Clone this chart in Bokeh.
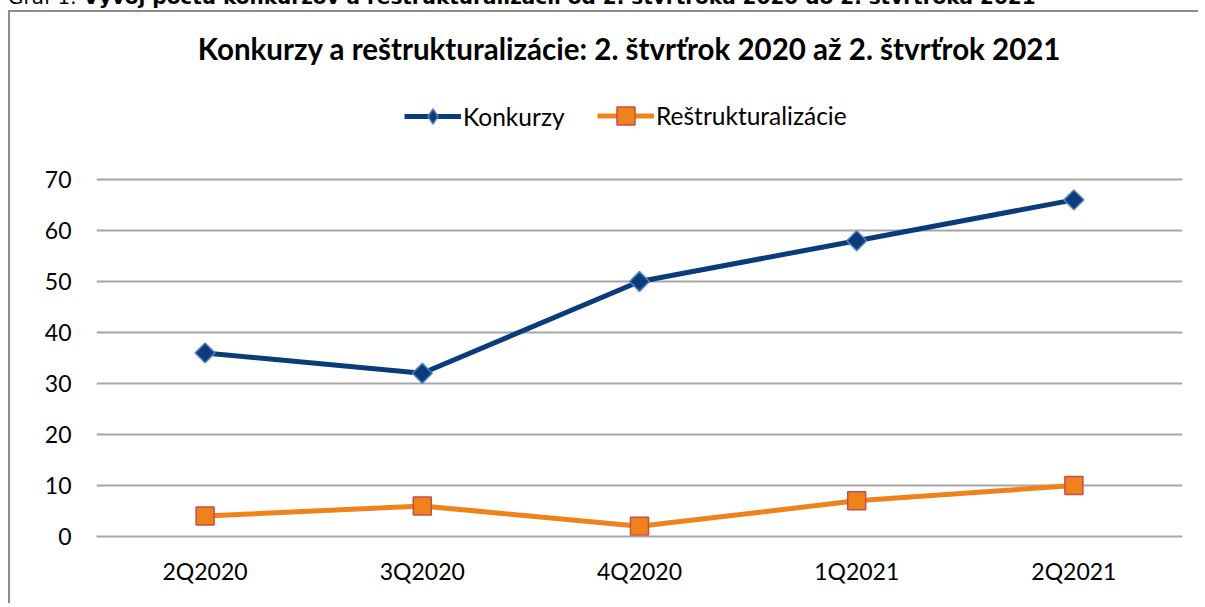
import math
from bokeh.plotting import figure
from bokeh.models import (ColumnDataSource, FactorRange, Range1d, FixedTicker,
                          Legend, LegendItem, Label, Div)
from bokeh.layouts import column
from bokeh.embed import file_html
from bokeh.resources import INLINE

# ---------------- data ----------------
quarters = ["2Q2020", "3Q2020", "4Q2020", "1Q2021", "2Q2021"]
konkurzy = [36, 32, 50, 58, 66]
restrukturalizacie = [4, 6, 2, 7, 10]
y_ticks = [0, 10, 20, 30, 40, 50, 60, 70]
series_names = ["Konkurzy", "Reštrukturalizácie"]
title_text = "Konkurzy a reštrukturalizácie: 2. štvrťrok 2020 až 2. štvrťrok 2021"
caption_prefix = "Graf 1: "
caption_text = "Vývoj počtu konkurzov a reštrukturalizácií od 2. štvrťroka 2020 do 2. štvrťroka 2021"

# ---------------- style ----------------
FONT = "Lato"
BLUE = "#0A3C7C"
BLUE_EDGE = "#4F81BD"
ORANGE = "#F0821C"
ORANGE_EDGE = "#C0504D"
GRID = "#A6A6A6"
BORDER = "#8C8C8C"

# layout geometry (pixels)
AXIS_H = 357          # height of the 0..70 band
FRAME_H = 524         # frame extends up to hold title + legend
Y_MAX = 70
y_end = Y_MAX * FRAME_H / AXIS_H

src = ColumnDataSource(dict(q=quarters, k=konkurzy, r=restrukturalizacie))

p = figure(x_range=FactorRange(factors=quarters), y_range=Range1d(0, y_end),
           width=1190, height=593, output_backend="svg", toolbar_location=None,
           min_border_left=86, min_border_right=18, min_border_top=0,
           min_border_bottom=593 - FRAME_H,
           margin=(0, 0, 0, 8),
           styles={"border-left": f"2px solid {BORDER}",
                   "border-top": f"2px solid {BORDER}"})
p.outline_line_color = None
p.background_fill_color = "white"
p.border_fill_color = "white"

lk = p.line("q", "k", source=src, color=BLUE, line_width=5)
sk = p.scatter("q", "k", source=src, marker="square", angle=math.pi / 4, size=14,
               fill_color=BLUE, line_color=BLUE_EDGE, line_width=1.5)
lr = p.line("q", "r", source=src, color=ORANGE, line_width=5)
sr = p.scatter("q", "r", source=src, marker="square", size=18,
               fill_color=ORANGE, line_color=ORANGE_EDGE, line_width=1.5)
# legend-only key for the diamond (its single point is NaN, so nothing is plotted)
key_src = ColumnDataSource(dict(q=[quarters[0]], k=[float("nan")]))
sk_key = p.scatter("q", "k", source=key_src, marker="diamond", size=15,
                   fill_color=BLUE, line_color=BLUE_EDGE, line_width=1.5)

# axes
for ax in (p.xaxis, p.yaxis):
    ax.major_tick_line_color = None
    ax.minor_tick_line_color = None
    ax.major_tick_out = 0
    ax.major_tick_in = 0
    ax.major_label_text_font = FONT
    ax.major_label_text_font_size = "23px"
    ax.major_label_text_color = "black"
p.xaxis.axis_line_color = GRID
p.xaxis.axis_line_width = 2
p.xaxis.major_label_standoff = 20
p.yaxis.axis_line_color = None
p.yaxis.ticker = FixedTicker(ticks=y_ticks)
p.yaxis.major_label_standoff = 25

p.xgrid.grid_line_color = None
p.ygrid.ticker = FixedTicker(ticks=y_ticks)
p.ygrid.grid_line_color = GRID
p.ygrid.grid_line_width = 2

# title
p.add_layout(Label(x=2.454, y=95.7, text=title_text, text_font=FONT,
                   text_font_size="29.5px", text_font_style="bold",
                   text_color="black", text_align="center",
                   text_baseline="alphabetic"))

# legends
common = dict(orientation="horizontal", padding=0, margin=0, spacing=0,
              border_line_color=None, background_fill_alpha=0,
              label_text_font=FONT, label_text_font_size="24.5px",
              label_text_color="black", label_standoff=2, glyph_width=57)
leg1 = Legend(items=[LegendItem(label=series_names[0], renderers=[lk, sk_key], index=0)],
              location=(308, 401), glyph_height=38, **common)
leg2 = Legend(items=[LegendItem(label=series_names[1], renderers=[lr, sr])],
              location=(501, 398), glyph_height=45, **common)
p.add_layout(leg1)
p.add_layout(leg2)

caption = Div(text=f"{caption_prefix}<b>{caption_text}</b>", width=1189, height=23,
              margin=(-13, 0, 0, 8),
              styles={"font-family": "'DejaVu Sans', Verdana, sans-serif",
                      "font-size": "20px", "line-height": "20px",
                      "white-space": "nowrap", "color": "black"})

layout = column(caption, p, spacing=0)
open("out.html", "w").write(file_html(layout, INLINE))
